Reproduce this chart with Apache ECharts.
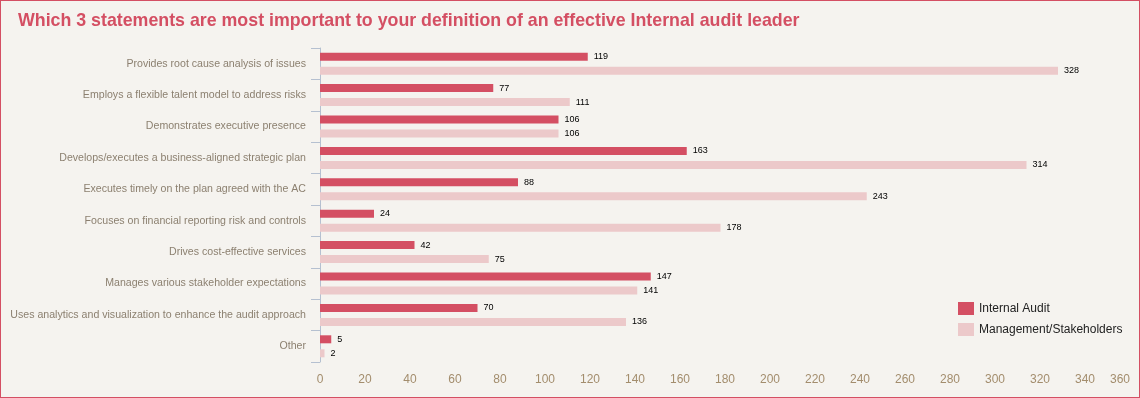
<!DOCTYPE html>
<html>
<head>
<meta charset="utf-8">
<script src="https://cdn.jsdelivr.net/npm/echarts@6/dist/echarts.min.js"></script>
<style>
html, body { margin: 0; padding: 0; background: #f5f3ef; }
#wrap { width: 1140px; height: 398px; box-sizing: border-box; border: 1px solid #d44f63; background: #f5f3ef; }
#container { width: 1138px; height: 396px; }
</style>
</head>
<body>
<div id="wrap"><div id="container"></div></div>
<script>
var categories = [
    'Provides root cause analysis of issues',
    'Employs a flexible talent model to address risks',
    'Demonstrates executive presence',
    'Develops/executes a business-aligned strategic plan',
    'Executes timely on the plan agreed with the AC',
    'Focuses on financial reporting risk and controls',
    'Drives cost-effective services',
    'Manages various stakeholder expectations',
    'Uses analytics and visualization to enhance the audit approach',
    'Other'
];
var internalAudit = [119, 77, 106, 163, 88, 24, 42, 147, 70, 5];
var management = [328, 111, 106, 314, 243, 178, 75, 141, 136, 2];

var dom = document.getElementById("container");
var myChart = echarts.init(dom);

var labelStyle = {
    show: true,
    position: 'right',
    distance: 6,
    fontSize: 9,
    color: '#000',
    fontFamily: 'Liberation Sans, Arial, sans-serif'
};

var option = {
    animation: false,
    backgroundColor: '#f5f3ef',
    textStyle: { fontFamily: 'Liberation Sans, Arial, sans-serif' },
    title: {
        text: 'Which 3 statements are most important to your definition of an effective Internal audit leader',
        left: 12,
        top: 6,
        textStyle: {
            color: '#d44f63',
            fontSize: 17.8,
            fontWeight: 'bold',
            fontFamily: 'Liberation Sans, Arial, sans-serif'
        }
    },
    legend: {
        orient: 'vertical',
        left: 952,
        top: 296,
        itemWidth: 16,
        itemHeight: 13,
        itemGap: 8,
        icon: 'rect',
        textStyle: { color: '#222', fontSize: 12 },
        data: ['Internal Audit', 'Management/Stakeholders']
    },
    grid: {
        left: 319,
        right: 9,
        top: 47,
        bottom: 35,
        containLabel: false,
        outerBoundsMode: 'none'
    },
    xAxis: {
        type: 'value',
        min: 0,
        max: 360,
        interval: 20,
        axisLine: { show: false },
        axisTick: { show: false },
        splitLine: { show: false },
        axisLabel: {
            color: '#a38d6d',
            fontSize: 12,
            margin: 12,
            alignMaxLabel: 'right'
        }
    },
    yAxis: {
        type: 'category',
        inverse: true,
        data: categories,
        axisLine: { show: true, lineStyle: { color: '#b5c0d0' } },
        axisTick: { show: true, length: 9, lineStyle: { color: '#b5c0d0' } },
        axisLabel: {
            color: '#8c8070',
            fontSize: 10.6,
            margin: 14
        }
    },
    series: [
        {
            name: 'Internal Audit',
            type: 'bar',
            barWidth: 8,
            barGap: '75%',
            itemStyle: { color: '#d44f63' },
            label: labelStyle,
            data: internalAudit
        },
        {
            name: 'Management/Stakeholders',
            type: 'bar',
            barWidth: 8,
            itemStyle: { color: '#ecc9ca' },
            label: labelStyle,
            data: management
        }
    ]
};
myChart.setOption(option);
</script>
</body>
</html>
